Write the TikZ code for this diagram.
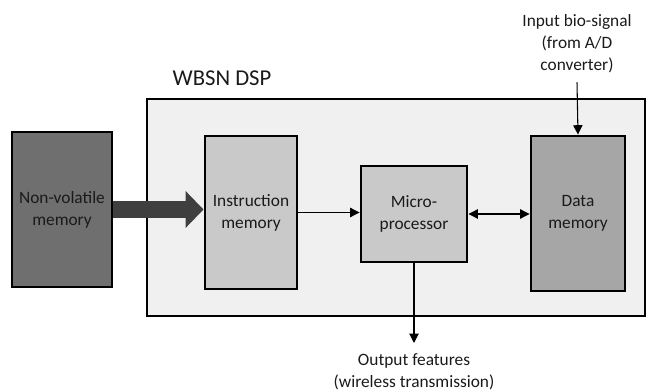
\documentclass[tikz,border=0pt]{standalone}
\usepackage{fontspec}
\setmainfont{Carlito}
\usetikzlibrary{arrows.meta}
\definecolor{shell}{HTML}{F0F0F0}
\definecolor{nvgray}{HTML}{6F6F6F}
\definecolor{lightblk}{HTML}{C9C9C9}
\definecolor{midblk}{HTML}{A6A6A6}
\definecolor{fatarrow}{HTML}{3F3F3F}
\definecolor{ink}{HTML}{1A1A1A}
\begin{document}
\begin{tikzpicture}[x=0.75pt,y=-0.75pt,
  block/.style={draw=black,line width=2.2pt,align=center,text=ink,
    font=\fontsize{13}{16.5}\selectfont,inner sep=0pt},
  lbl/.style={align=center,text=ink,font=\fontsize{13}{16.5}\selectfont,inner sep=0pt},
  link/.style={line width=0.8pt,-{Triangle[length=7pt,width=7pt]}},
  bilink/.style={line width=0.8pt,{Triangle[length=7pt,width=7pt]}-{Triangle[length=7pt,width=7pt]}}]
\useasboundingbox (0,0) rectangle (646,392);

% DSP enclosure
\node[draw=black,line width=1.5pt,fill=shell,minimum width=373.5pt,minimum height=162.75pt,inner sep=0pt] (dsp) at (396,207.5) {};
\node[lbl,font=\fontsize{17}{20}\selectfont] (dsplbl) at (222,78) {WBSN DSP};

% blocks
\node[block,fill=nvgray,minimum width=75pt,minimum height=116.25pt] (nv) at (62,209.5) {Non-volatile\\memory};
\node[block,fill=lightblk,minimum width=69pt,minimum height=114.75pt] (im) at (251,212.5) {Instruction\\memory};
\node[block,fill=lightblk,minimum width=79.5pt,minimum height=72pt] (mp) at (414,214) {Micro-\\processor};
\node[block,fill=midblk,minimum width=70.5pt,minimum height=116.25pt] (dm) at (578,213.5) {Data\\memory};

% external labels
\node[lbl,anchor=south] (insig) at (577,73) {Input bio-signal\\(from A/D\\converter)};
\node[lbl,anchor=north] (outf) at (414,353) {Output features\\(wireless transmission)};

% program load path
\draw[fatarrow,line width=12.75pt,-{Triangle[length=13.5pt,width=27pt]}]
  (nv.east) -- (nv.east -| im.west);

% data paths
\draw[link] (im.east) -- (im.east -| mp.west);
\draw[bilink] (mp.east) -- (mp.east -| dm.west);
\draw[link] ([yshift=-7pt]insig.south) -- (dm.north);
\draw[link] (mp.south) -- ([yshift=7.5pt]outf.north);
\end{tikzpicture}
\end{document}
